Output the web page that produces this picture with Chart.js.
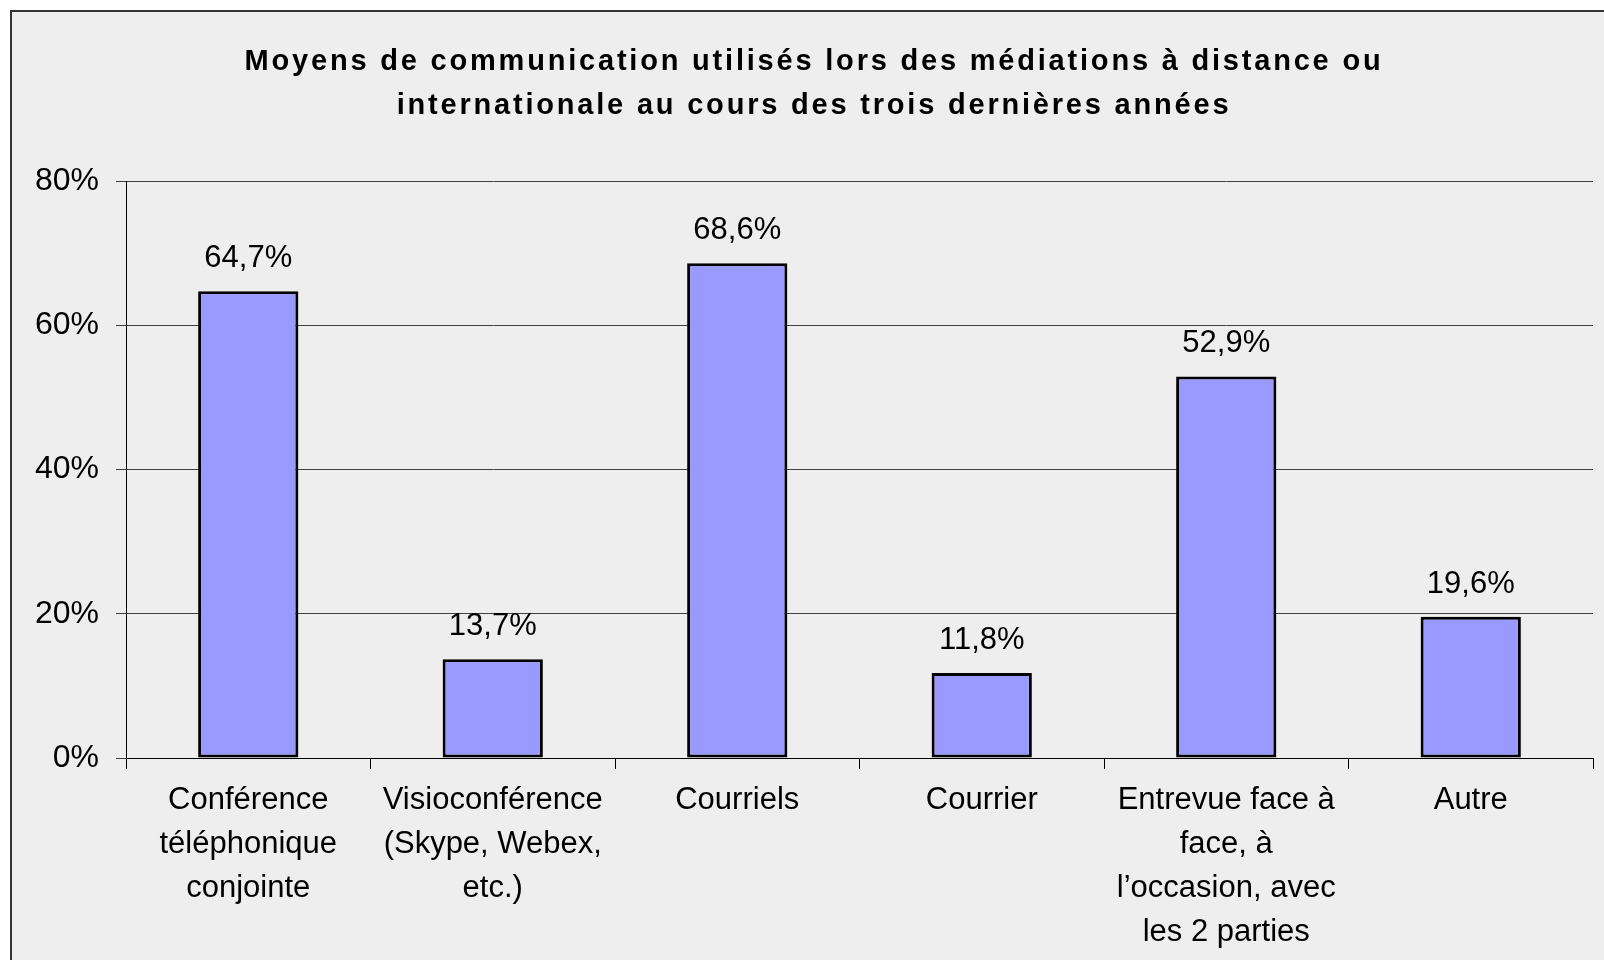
<!DOCTYPE html>
<html>
<head>
<meta charset="utf-8">
<script src="https://cdn.jsdelivr.net/npm/chart.js@4/dist/chart.umd.min.js"></script>
<style>
  html, body { margin: 0; padding: 0; background: #fff; overflow: hidden; }
  #wrap { position: absolute; left: 0; top: 0; width: 1604px; height: 960px; }
</style>
</head>
<body>
<div id="wrap"><canvas id="chart" width="1604" height="960"></canvas></div>
<script>
const titleLines = [
  'Moyens de communication utilisés lors des médiations à distance ou',
  'internationale au cours des trois dernières années'
];
const categories = [
  ['Conférence', 'téléphonique', 'conjointe'],
  ['Visioconférence', '(Skype, Webex,', 'etc.)'],
  ['Courriels'],
  ['Courrier'],
  ['Entrevue face à', 'face, à', 'l\u2019occasion, avec', 'les 2 parties'],
  ['Autre']
];
const values = [64.7, 13.7, 68.6, 11.8, 52.9, 19.6];
const yTicks = [0, 20, 40, 60, 80];

const fmt = v => v.toFixed(1).replace('.', ',') + '%';

// background frame like the original spreadsheet export
const framePlugin = {
  id: 'frame',
  beforeDraw(chart) {
    const ctx = chart.ctx;
    ctx.save();
    ctx.fillStyle = '#ffffff';
    ctx.fillRect(0, 0, chart.width, chart.height);
    ctx.fillStyle = '#eeeeee';
    ctx.fillRect(11, 11, chart.width, chart.height);
    ctx.strokeStyle = '#333333';
    ctx.lineWidth = 2;
    ctx.strokeRect(11, 11, chart.width + 20, chart.height + 20);
    ctx.restore();
  }
};

// spaced-out title, drawn by hand since the title plugin has no letter spacing
const titlePlugin = {
  id: 'spacedTitle',
  afterDraw(chart) {
    const ctx = chart.ctx;
    ctx.save();
    ctx.font = 'bold 29px "Liberation Sans", Arial, sans-serif';
    ctx.letterSpacing = '2.8px';
    ctx.fillStyle = '#000';
    ctx.textAlign = 'center';
    ctx.textBaseline = 'alphabetic';
    ctx.fillText(titleLines[0], 814, 70);
    ctx.fillText(titleLines[1], 814, 114);
    ctx.restore();
  }
};

// value labels above each bar
const valueLabels = {
  id: 'valueLabels',
  afterDatasetsDraw(chart) {
    const ctx = chart.ctx;
    const meta = chart.getDatasetMeta(0);
    ctx.save();
    ctx.font = '31px "Liberation Sans", Arial, sans-serif';
    ctx.fillStyle = '#000';
    ctx.textAlign = 'center';
    ctx.textBaseline = 'alphabetic';
    meta.data.forEach((bar, i) => {
      ctx.fillText(fmt(values[i]), bar.x, bar.y - 24);
    });
    ctx.restore();
  }
};

new Chart(document.getElementById('chart'), {
  type: 'bar',
  data: {
    labels: categories,
    datasets: [{
      data: values,
      backgroundColor: '#9999ff',
      borderColor: '#000000',
      borderWidth: 3,
      borderSkipped: false,
      categoryPercentage: 1,
      barPercentage: 0.41
    }]
  },
  options: {
    responsive: false,
    animation: false,
    devicePixelRatio: 1,
    layout: { padding: { top: 181, right: 11, left: 0, bottom: 0 } },
    plugins: {
      legend: { display: false },
      title: { display: false },
      tooltip: { enabled: false }
    },
    scales: {
      x: {
        offset: true,
        grid: {
          offset: true,
          drawOnChartArea: false,
          drawTicks: true,
          tickLength: 11,
          color: '#000'
        },
        border: { color: '#000', width: 1 },
        ticks: {
          autoSkip: false,
          maxRotation: 0,
          minRotation: 0,
          padding: 9,
          color: '#000',
          font: { family: '"Liberation Sans", Arial, sans-serif', size: 31, lineHeight: 1.42 }
        },
        afterFit(scale) { scale.height = 960 - 758; }
      },
      y: {
        min: 0,
        max: 80,
        afterBuildTicks(scale) { scale.ticks = yTicks.map(v => ({ value: v })); },
        grid: {
          color: '#404040',
          lineWidth: 1,
          drawTicks: true,
          tickLength: 10
        },
        border: { color: '#000', width: 1 },
        ticks: {
          padding: 17,
          color: '#000',
          callback: v => v + '%',
          font: { family: '"Liberation Sans", Arial, sans-serif', size: 32 }
        },
        afterFit(scale) { scale.width = 126; }
      }
    }
  },
  plugins: [framePlugin, titlePlugin, valueLabels]
});
</script>
</body>
</html>
